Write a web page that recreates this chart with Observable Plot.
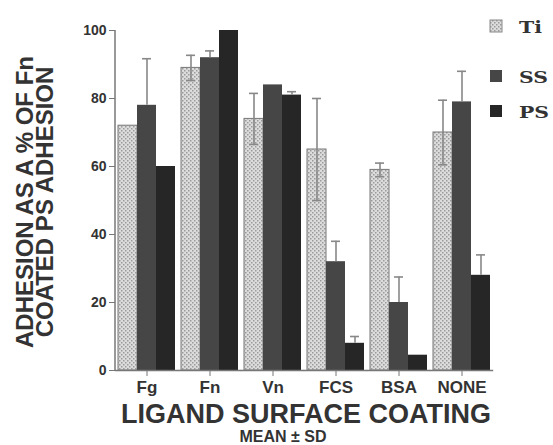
<!DOCTYPE html>
<html><head><meta charset="utf-8">
<script src="https://cdn.jsdelivr.net/npm/d3@7"></script>
<script src="https://cdn.jsdelivr.net/npm/@observablehq/plot@0.6"></script>
<style>
body{margin:0;background:#fff}
#chart{position:relative;width:553px;height:445px;overflow:hidden}
</style>
</head><body><div id="chart"></div>
<script>
const coatings = ["Fg","Fn","Vn","FCS","BSA","NONE"];
const materials = ["Ti","SS","PS"];
const tiMean = [72, 89, 74, 65, 59, 70];
const tiSD   = [0, 3.7, 7.5, 15, 2, 9.5];
const ssMean = [78, 92, 84, 32, 20, 79];
const ssSD   = [13.7, 2, 0, 6, 7.5, 9];
const psMean = [60, 100, 81, 8, 4.5, 28];
const psSD   = [0, 0, 1, 2, 0, 6];
const yTicks = [0, 20, 40, 60, 80, 100];
const yTitle = ["ADHESION AS A % OF Fn", "COATED PS ADHESION"];
const xTitle = "LIGAND SURFACE COATING";
const note = "MEAN \u00b1 SD";
const legendLabels = ["Ti", "SS", "PS"];

const series = {Ti: [tiMean, tiSD], SS: [ssMean, ssSD], PS: [psMean, psSD]};
const rows = [];
coatings.forEach((c, i) => materials.forEach(m =>
  rows.push({coating: c, material: m, mean: series[m][0][i], sd: series[m][1][i]})));
const errs = rows.filter(d => d.sd > 0).map(d => ({
  ...d, lo: d.material === "Ti" ? d.mean - d.sd : d.mean, hi: d.mean + d.sd
}));
const tiRows = rows.filter(d => d.material === "Ti");
const darkRows = rows.filter(d => d.material !== "Ti");
const tiErrs = errs.filter(d => d.material === "Ti");

const mL = 115, mR = 60, mT = 30, mB = 75;
const plot = Plot.plot({
  width: 553, height: 445,
  marginLeft: mL, marginRight: mR, marginTop: mT, marginBottom: mB,
  style: {fontFamily: "'Liberation Sans', Arial, sans-serif", fontWeight: "bold", color: "#333", background: "transparent"},
  fx: {domain: coatings, paddingInner: 0.1, paddingOuter: 0.05, label: null},
  x: {domain: materials, padding: 0, axis: null},
  y: {domain: [0, 100], label: null},
  color: {domain: ["SS", "PS"], range: ["#464646", "#262626"]},
  marks: [
    Plot.barY(tiRows, {fx: "coating", x: "material", y: "mean", fill: "url(#tiPattern)", stroke: "#777", strokeWidth: 1}),
    Plot.barY(darkRows, {fx: "coating", x: "material", y: "mean", fill: "material"}),
    Plot.ruleX(errs, {fx: "coating", x: "material", y1: "lo", y2: "hi", stroke: "#888", strokeWidth: 1.6}),
    Plot.tickY(errs, {fx: "coating", x: "material", y: "hi", stroke: "#888", strokeWidth: 1.6, insetLeft: 5, insetRight: 5}),
    Plot.tickY(tiErrs, {fx: "coating", x: "material", y: "lo", stroke: "#888", strokeWidth: 1.6, insetLeft: 5, insetRight: 5}),
    Plot.ruleY([0], {stroke: "#777", strokeWidth: 1.5, insetLeft: -3.2, insetRight: -3.2}),
    Plot.axisY({ticks: yTicks, tickSize: 6, fontSize: 14, stroke: "#777", fill: "#333", dx: -3, label: null}),
    Plot.axisFx({anchor: "bottom", tickSize: 6, fontSize: 17, stroke: "#777", fill: "#333", tickPadding: 4, label: null})
  ]
});

document.getElementById("chart").appendChild(plot);
const svg = d3.select(plot);
const y = plot.scale("y");

// y axis line, positioned through the y scale
svg.append("line").attr("x1", mL).attr("x2", mL)
  .attr("y1", y.apply(0)).attr("y2", y.apply(100))
  .attr("stroke", "#777").attr("stroke-width", 1.5);

// pattern for Ti
const defs = svg.insert("defs", ":first-child");
const pat = defs.append("pattern").attr("id", "tiPattern").attr("patternUnits", "userSpaceOnUse")
  .attr("width", 4).attr("height", 4);
pat.append("rect").attr("width", 4).attr("height", 4).attr("fill", "#dcdcdc");
pat.append("rect").attr("x", 0).attr("y", 0).attr("width", 1.5).attr("height", 1.5).attr("fill", "#9a9a9a");
pat.append("rect").attr("x", 2).attr("y", 2).attr("width", 1.5).attr("height", 1.5).attr("fill", "#9a9a9a");

// titles
const sans = "'Liberation Sans', Arial, sans-serif";
yTitle.forEach((t, i) => {
  svg.append("text").text(t)
    .attr("transform", `translate(${33 + i * 20},202) rotate(-90)`)
    .attr("text-anchor", "middle").attr("font-family", sans).attr("font-weight", "bold")
    .attr("font-size", 24).attr("fill", "#333");
});
svg.append("text").text(xTitle).attr("x", 306).attr("y", 423)
  .attr("text-anchor", "middle").attr("font-family", sans).attr("font-weight", "bold")
  .attr("font-size", 27).attr("fill", "#333");
svg.append("text").text(note).attr("x", 283).attr("y", 442)
  .attr("text-anchor", "middle").attr("font-family", sans).attr("font-weight", "bold")
  .attr("font-size", 16).attr("fill", "#333");

// legend
const legendFill = ["url(#tiPattern)", "#464646", "#262626"];
const legendY = [26, 76, 111];
legendLabels.forEach((l, i) => {
  svg.append("rect").attr("x", 490).attr("y", legendY[i] - 6).attr("width", 12).attr("height", 12)
    .attr("fill", legendFill[i]).attr("stroke", i === 0 ? "#888" : "none");
  svg.append("text").text(l)
    .attr("transform", `translate(519,${legendY[i] + 6.5}) scale(1.2,1)`)
    .attr("text-anchor", "start")
    .attr("font-family", "'DejaVu Serif', serif").attr("font-weight", "bold")
    .attr("font-size", 17).attr("fill", "#333");
});
</script>
</body></html>
